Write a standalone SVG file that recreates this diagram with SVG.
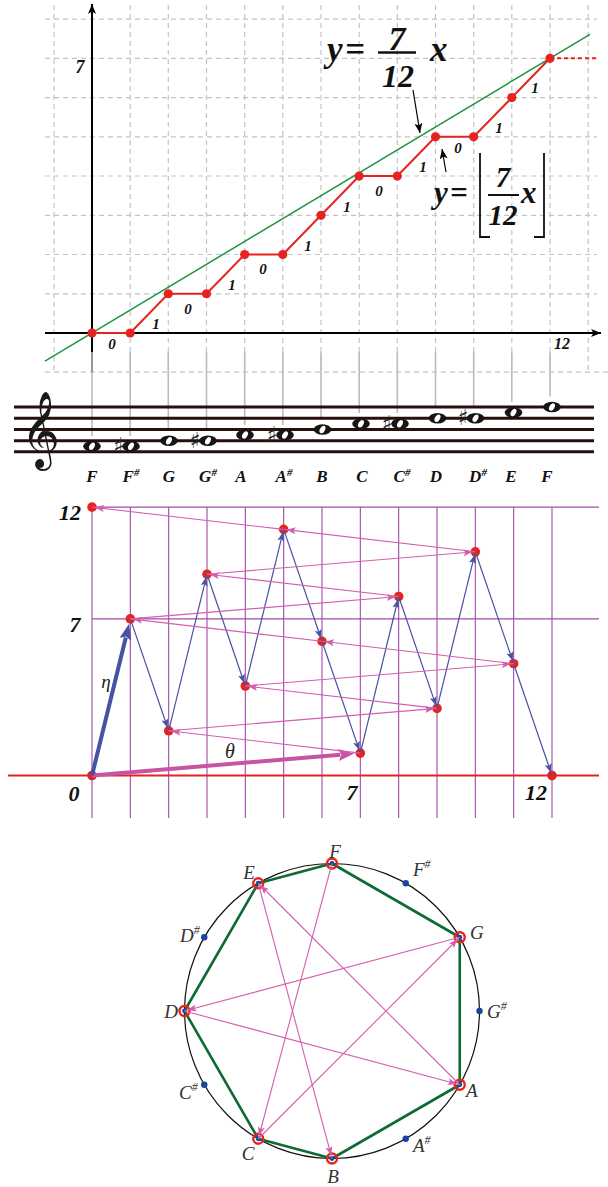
<svg xmlns="http://www.w3.org/2000/svg" xmlns:xlink="http://www.w3.org/1999/xlink" width="608" height="1187" viewBox="0 0 608 1187">
<style>
.grid{stroke:#c4c4c4;stroke-width:1.2;stroke-dasharray:5 4;fill:none}
.axis{stroke:#000;stroke-width:2;fill:none}
.bi{font-family:"Liberation Serif",serif;font-weight:bold;font-style:italic;fill:#111}
.it{font-family:"Liberation Serif",serif;font-style:italic;fill:#333}
.step{stroke:#e52421;stroke-width:2;fill:none}
.rdot{fill:#e52421}
.staff{stroke:#2a0d0d;stroke-width:3}
.tie{stroke:#bcbcbc;stroke-width:1.6}
.sharp{font-family:"DejaVu Sans",sans-serif;font-size:22px;fill:#222;text-anchor:middle}
.vl{stroke:#a24ba8;stroke-width:1.1}
.blue{stroke:#4652a2;stroke-width:1.2;fill:none;marker-end:url(#arrB)}
.pink{stroke:#d35fae;stroke-width:1.1;fill:none;marker-end:url(#arrP)}
.green{stroke:#0f6a35;stroke-width:2.6;fill:none;stroke-linejoin:round}
.ring{stroke:#e52421;stroke-width:2.4;fill:none}
.bdot{fill:#1b44a0}
.ann{stroke:#000;stroke-width:1.2;fill:none;marker-end:url(#arrK)}
</style>
<defs>
<marker id="arrK" markerUnits="userSpaceOnUse" markerWidth="11" markerHeight="8" refX="10" refY="4" orient="auto"><path d="M0,0 L10,4 L0,8 L2.5,4 z" fill="#000"/></marker>
<marker id="arrB" markerUnits="userSpaceOnUse" markerWidth="13" markerHeight="8" refX="12" refY="4" orient="auto"><path d="M0,0.5 L9,4 L0,7.5 L2,4 z" fill="#4652a2"/></marker>
<marker id="arrP" markerUnits="userSpaceOnUse" markerWidth="13" markerHeight="8" refX="12" refY="4" orient="auto"><path d="M0,0.5 L9,4 L0,7.5 L2,4 z" fill="#d35fae"/></marker>
<marker id="arrBB" markerUnits="userSpaceOnUse" markerWidth="17" markerHeight="12" refX="2" refY="6" orient="auto"><path d="M0,0 L16,6 L0,12 L3,6 z" fill="#4652a2"/></marker>
<marker id="arrPP" markerUnits="userSpaceOnUse" markerWidth="17" markerHeight="12" refX="2" refY="6" orient="auto"><path d="M0,0 L16,6 L0,12 L3,6 z" fill="#c952a3"/></marker>
<g id="wn"><ellipse rx="8.8" ry="5.2" fill="#151515"/><ellipse rx="2.5" ry="4" fill="#fff" transform="rotate(30)"/></g>
</defs>

<!-- ===== Top graph ===== -->
<g id="top-grid">
<path class="grid" d="M54,5V373M130.2,5V373M168.3,5V373M206.5,5V373M244.7,5V373M282.8,5V373M321,5V373M359.2,5V373M397.3,5V373M435.5,5V373M473.7,5V373M511.8,5V373M550,5V373M588.2,5V373"/>
<path class="grid" d="M45,19.1H597M45,58.3H597M45,97.6H597M45,136.8H597M45,176H597M45,215.3H597M45,254.5H597M45,293.8H597M45,372.2H608"/>
</g>
<g id="top-axes">
<line class="axis" x1="45" y1="333" x2="601" y2="333" marker-end="url(#arrK)"/>
<line class="axis" x1="92" y1="372" x2="92" y2="4" marker-end="url(#arrK)"/>
<text class="bi" x="80" y="73" font-size="18" text-anchor="middle">7</text>
<text class="bi" x="562" y="349" font-size="16" text-anchor="middle">12</text>
</g>
<g id="line-7-12x">
<line x1="45" y1="361.2" x2="590" y2="34.3" stroke="#1e9440" stroke-width="1.5"/>
</g>
<g id="floor-steps">
<polyline class="step" points="92,333 130.17,333 168.33,293.76 206.5,293.76 244.67,254.52 282.83,254.52 321,215.28 359.17,176.04 397.33,176.04 435.5,136.8 473.67,136.8 511.83,97.56 550,58.32"/>
<line x1="550" y1="58.32" x2="596" y2="58.32" stroke="#e52421" stroke-width="2" stroke-dasharray="4 3"/>
<g class="rdot">
<circle cx="92" cy="333" r="4.6"/><circle cx="130.17" cy="333" r="4.6"/><circle cx="168.33" cy="293.76" r="4.6"/><circle cx="206.5" cy="293.76" r="4.6"/><circle cx="244.67" cy="254.52" r="4.6"/><circle cx="282.83" cy="254.52" r="4.6"/><circle cx="321" cy="215.28" r="4.6"/><circle cx="359.17" cy="176.04" r="4.6"/><circle cx="397.33" cy="176.04" r="4.6"/><circle cx="435.5" cy="136.8" r="4.6"/><circle cx="473.67" cy="136.8" r="4.6"/><circle cx="511.83" cy="97.56" r="4.6"/><circle cx="550" cy="58.32" r="4.6"/>
</g>
<g class="bi" font-size="15" text-anchor="middle">
<text x="112" y="349">0</text><text x="156" y="329">1</text><text x="188" y="314">0</text><text x="232" y="290">1</text><text x="263" y="274">0</text><text x="308" y="251">1</text><text x="347" y="212">1</text><text x="379" y="196">0</text><text x="423" y="172">1</text><text x="458" y="153">0</text><text x="499" y="133">1</text><text x="535" y="93">1</text>
</g>
</g>
<g id="formula-line">
<text class="bi" x="327" y="61" font-size="35">y</text>
<text class="bi" x="345" y="61" font-size="35">=</text>
<text class="bi" x="397" y="50" font-size="34" text-anchor="middle">7</text>
<line x1="378" y1="52.5" x2="416" y2="52.5" stroke="#111" stroke-width="2.4"/>
<text class="bi" x="398" y="87" font-size="32" text-anchor="middle">12</text>
<text class="bi" x="430" y="61" font-size="35">x</text>
</g>
<g id="formula-floor">
<text class="bi" x="434" y="203" font-size="31">y</text>
<text class="bi" x="450" y="203" font-size="31">=</text>
<path d="M480,153V237H490M544,153V237H534" stroke="#111" stroke-width="1.8" fill="none"/>
<text class="bi" x="503" y="187" font-size="29" text-anchor="middle">7</text>
<line x1="488" y1="195" x2="519" y2="195" stroke="#111" stroke-width="2"/>
<text class="bi" x="503" y="225" font-size="29" text-anchor="middle">12</text>
<text class="bi" x="521" y="203" font-size="31">x</text>
</g>
<g id="annotation-arrows">
<line class="ann" x1="413" y1="90" x2="420" y2="133"/>
<line class="ann" x1="446" y1="172" x2="442" y2="149"/>
</g>

<!-- ===== Staff ===== -->
<g id="staff">
<path class="tie" d="M92,352V436M130.2,352V436M168.3,352V430.5M206.5,352V430.5M244.7,352V425M282.8,352V425M321,352V420M359.2,352V413M397.3,352V413M435.5,352V407.5M473.7,352V407.5M511.8,352V402M550,352V396.5"/>
<path class="staff" d="M14,407H594M14,418.2H594M14,429.5H594M14,440.7H594M14,451.8H594"/>
<text x="40" y="452" font-family="DejaVu Sans, sans-serif" font-size="66" text-anchor="middle" fill="#1a1a1a">𝄞</text>
</g>
<g id="notes">
<use xlink:href="#wn" x="92" y="446.2"/>
<use xlink:href="#wn" x="131" y="446.2"/><text class="sharp" x="118.5" y="453">♯</text>
<use xlink:href="#wn" x="169" y="440.7"/>
<use xlink:href="#wn" x="208" y="440.7"/><text class="sharp" x="195" y="447.5">♯</text>
<use xlink:href="#wn" x="245" y="435"/>
<use xlink:href="#wn" x="285" y="435"/><text class="sharp" x="272" y="442">♯</text>
<use xlink:href="#wn" x="322.5" y="429.5"/>
<use xlink:href="#wn" x="361" y="423.8"/>
<use xlink:href="#wn" x="400" y="423.8"/><text class="sharp" x="387" y="431">♯</text>
<use xlink:href="#wn" x="437.5" y="418.2"/>
<use xlink:href="#wn" x="475.5" y="418.2"/><text class="sharp" x="463" y="425">♯</text>
<use xlink:href="#wn" x="513.5" y="412.5"/>
<use xlink:href="#wn" x="552" y="407"/>
</g>
<g id="note-names" class="bi" font-size="17" text-anchor="middle">
<text x="92" y="482">F</text>
<text x="131" y="482">F<tspan font-size="11" dy="-6">#</tspan></text>
<text x="169" y="482">G</text>
<text x="208" y="482">G<tspan font-size="11" dy="-6">#</tspan></text>
<text x="241" y="482">A</text>
<text x="284" y="482">A<tspan font-size="11" dy="-6">#</tspan></text>
<text x="322" y="482">B</text>
<text x="362" y="482">C</text>
<text x="402" y="482">C<tspan font-size="11" dy="-6">#</tspan></text>
<text x="436" y="482">D</text>
<text x="478" y="482">D<tspan font-size="11" dy="-6">#</tspan></text>
<text x="511" y="482">E</text>
<text x="547" y="482">F</text>
</g>

<!-- ===== Middle zigzag ===== -->
<g id="zz-lines">
<path class="vl" d="M92,507V818M130.33,507V818M168.67,507V818M207,507V818M245.33,507V818M283.67,507V818M322,507V818M360.33,507V818M398.67,507V818M437,507V818M475.33,507V818M513.67,507V818M552,507V818"/>
<path class="vl" d="M92,507.1H599M92,618.9H599"/>
<line x1="8" y1="775.5" x2="599" y2="775.5" stroke="#e52421" stroke-width="2.2"/>
</g>
<g id="zz-labels">
<text class="bi" x="70" y="520" font-size="22" text-anchor="middle">12</text>
<text class="bi" x="75" y="632" font-size="22" text-anchor="middle">7</text>
<text class="bi" x="74" y="801" font-size="22" text-anchor="middle">0</text>
<text class="bi" x="352" y="800" font-size="22" text-anchor="middle">7</text>
<text class="bi" x="536" y="800" font-size="22" text-anchor="middle">12</text>
<text x="106" y="688" font-family="Liberation Serif, serif" font-style="italic" font-size="19" fill="#222" text-anchor="middle">η</text>
<text x="230" y="758" font-family="Liberation Serif, serif" font-style="italic" font-size="20" fill="#222" text-anchor="middle">θ</text>
</g>
<g id="zz-points" class="rdot">
<circle cx="92" cy="775.5" r="4.8"/><circle cx="130.33" cy="618.9" r="4.8"/><circle cx="168.67" cy="730.8" r="4.8"/><circle cx="207" cy="574.2" r="4.8"/><circle cx="245.33" cy="686" r="4.8"/><circle cx="283.67" cy="529.4" r="4.8"/><circle cx="322" cy="641.3" r="4.8"/><circle cx="360.33" cy="753.1" r="4.8"/><circle cx="398.67" cy="596.5" r="4.8"/><circle cx="437" cy="708.4" r="4.8"/><circle cx="475.33" cy="551.8" r="4.8"/><circle cx="513.67" cy="663.7" r="4.8"/><circle cx="552" cy="775.5" r="4.8"/><circle cx="92" cy="507.1" r="4.8"/>
</g>
<g id="zz-connectors">
<line x1="92" y1="775.5" x2="340.4" y2="754.75" stroke="#c952a3" stroke-width="4" marker-end="url(#arrPP)"/>
<line x1="92" y1="775.5" x2="125.8" y2="637.4" stroke="#4652a2" stroke-width="4" marker-end="url(#arrBB)"/>
<line class="blue" x1="130.33" y1="618.9" x2="168.67" y2="730.8"/>
<line class="blue" x1="168.67" y1="730.8" x2="207" y2="574.2"/>
<line class="blue" x1="207" y1="574.2" x2="245.33" y2="686"/>
<line class="blue" x1="245.33" y1="686" x2="283.67" y2="529.4"/>
<line class="blue" x1="283.67" y1="529.4" x2="322" y2="641.3"/>
<line class="blue" x1="322" y1="641.3" x2="360.33" y2="753.1"/>
<line class="blue" x1="360.33" y1="753.1" x2="398.67" y2="596.5"/>
<line class="blue" x1="398.67" y1="596.5" x2="437" y2="708.4"/>
<line class="blue" x1="437" y1="708.4" x2="475.33" y2="551.8"/>
<line class="blue" x1="475.33" y1="551.8" x2="513.67" y2="663.7"/>
<line class="blue" x1="513.67" y1="663.7" x2="552" y2="775.5"/>
<line class="pink" x1="360.33" y1="753.1" x2="168.67" y2="730.8"/>
<line class="pink" x1="168.67" y1="730.8" x2="437" y2="708.4"/>
<line class="pink" x1="437" y1="708.4" x2="245.33" y2="686"/>
<line class="pink" x1="245.33" y1="686" x2="513.67" y2="663.7"/>
<line class="pink" x1="513.67" y1="663.7" x2="322" y2="641.3"/>
<line class="pink" x1="322" y1="641.3" x2="130.33" y2="618.9"/>
<line class="pink" x1="130.33" y1="618.9" x2="398.67" y2="596.5"/>
<line class="pink" x1="398.67" y1="596.5" x2="207" y2="574.2"/>
<line class="pink" x1="207" y1="574.2" x2="475.33" y2="551.8"/>
<line class="pink" x1="475.33" y1="551.8" x2="283.67" y2="529.4"/>
<line class="pink" x1="283.67" y1="529.4" x2="92" y2="507.1"/>
</g>

<!-- ===== Circle of notes ===== -->
<g id="circle">
<circle cx="332" cy="1011" r="147.5" fill="none" stroke="#111" stroke-width="1.2"/>
</g>
<g id="diatonic-polygon">
<polygon class="green" points="332,863.5 459.74,937.25 459.74,1084.75 332,1158.5 258.25,1138.74 184.5,1011 258.25,883.26"/>
</g>
<g id="chromatic-dots" class="bdot">
<circle cx="405.75" cy="883.26" r="3.2"/><circle cx="479.5" cy="1011" r="3.2"/><circle cx="405.75" cy="1138.74" r="3.2"/><circle cx="204.26" cy="1084.75" r="3.2"/><circle cx="204.26" cy="937.25" r="3.2"/>
</g>
<g id="diatonic-nodes">
<g id="n-F"><circle class="ring" cx="332" cy="863.5" r="5"/><circle class="bdot" cx="332" cy="863.5" r="2.4"/></g>
<g id="n-G"><circle class="ring" cx="459.74" cy="937.25" r="5"/><circle class="bdot" cx="459.74" cy="937.25" r="2.4"/></g>
<g id="n-A"><circle class="ring" cx="459.74" cy="1084.75" r="5"/><circle class="bdot" cx="459.74" cy="1084.75" r="2.4"/></g>
<g id="n-B"><circle class="ring" cx="332" cy="1158.5" r="5"/><circle class="bdot" cx="332" cy="1158.5" r="2.4"/></g>
<g id="n-C"><circle class="ring" cx="258.25" cy="1138.74" r="5"/><circle class="bdot" cx="258.25" cy="1138.74" r="2.4"/></g>
<g id="n-D"><circle class="ring" cx="184.5" cy="1011" r="5"/><circle class="bdot" cx="184.5" cy="1011" r="2.4"/></g>
<g id="n-E"><circle class="ring" cx="258.25" cy="883.26" r="5"/><circle class="bdot" cx="258.25" cy="883.26" r="2.4"/></g>
</g>
<g id="fifths-connectors">
<line class="pink" x1="332" y1="863.5" x2="258.25" y2="1138.74"/>
<line class="pink" x1="258.25" y1="1138.74" x2="459.74" y2="937.25"/>
<line class="pink" x1="459.74" y1="937.25" x2="184.5" y2="1011"/>
<line class="pink" x1="184.5" y1="1011" x2="459.74" y2="1084.75"/>
<line class="pink" x1="459.74" y1="1084.75" x2="258.25" y2="883.26"/>
<line class="pink" x1="258.25" y1="883.26" x2="332" y2="1158.5"/>
</g>
<g id="circle-labels" class="it" font-size="19">
<text x="335" y="858" text-anchor="middle">F</text>
<text x="413" y="876">F<tspan font-size="12" dy="-8">#</tspan></text>
<text x="470" y="939">G</text>
<text x="487" y="1018">G<tspan font-size="12" dy="-8">#</tspan></text>
<text x="466" y="1097">A</text>
<text x="413" y="1152">A<tspan font-size="12" dy="-8">#</tspan></text>
<text x="333" y="1183" text-anchor="middle">B</text>
<text x="248" y="1160" text-anchor="middle">C</text>
<text x="179" y="1099">C<tspan font-size="12" dy="-8">#</tspan></text>
<text x="171" y="1018" text-anchor="middle">D</text>
<text x="180" y="942">D<tspan font-size="12" dy="-8">#</tspan></text>
<text x="249" y="879" text-anchor="middle">E</text>
</g>
</svg>
